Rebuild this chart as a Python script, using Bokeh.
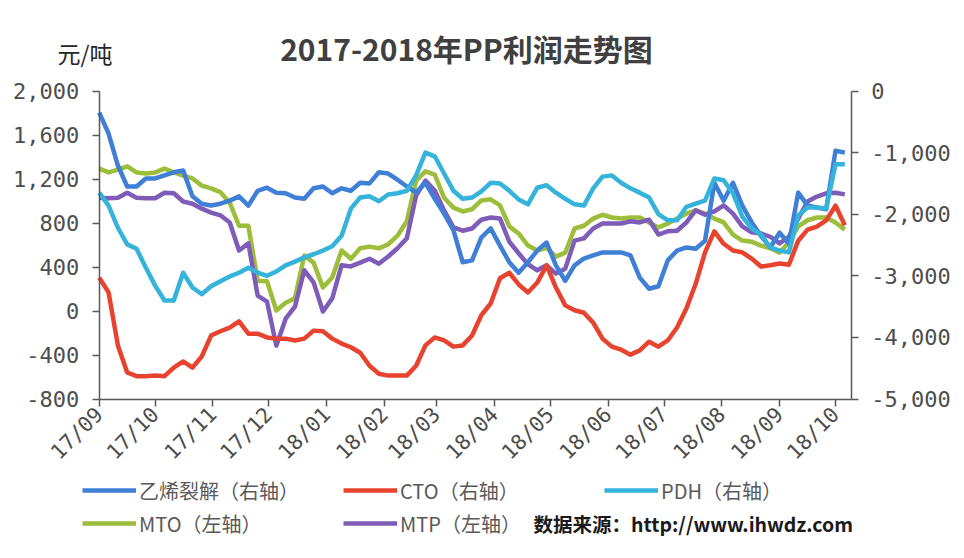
import math
import pandas as pd
from bokeh.plotting import figure
from bokeh.models import (Range1d, LinearAxis, FixedTicker, NumeralTickFormatter,
                          DatetimeTickFormatter, Legend, LegendItem, Label)
from bokeh.embed import file_html
from bokeh.resources import INLINE

# ---------------- data ----------------
dates = pd.date_range("2017-09-01", periods=81, freq="5D")
month_ticks = pd.date_range("2017-09-01", "2018-10-01", freq="MS")

ethylene = [-350, -690, -1210, -1550, -1550, -1420, -1420, -1370, -1320, -1290,
            -1710, -1830, -1860, -1830, -1780, -1710, -1860, -1620, -1570, -1650,
            -1660, -1730, -1750, -1580, -1550, -1660, -1580, -1620, -1490, -1500,
            -1320, -1340, -1440, -1550, -1650, -1490, -1750, -1990, -2260, -2780,
            -2750, -2380, -2230, -2510, -2780, -2950, -2780, -2590, -2460, -2830,
            -3080, -2830, -2720, -2670, -2620, -2620, -2620, -2670, -3030, -3210,
            -3170, -2750, -2590, -2540, -2560, -2430, -1490, -1780, -1490, -1860,
            -2130, -2350, -2540, -2300, -2480, -1650, -1860, -1890, -1920, -970,
            -1000]
cto = [-3030, -3270, -4130, -4570, -4630, -4630, -4620, -4630, -4490, -4390,
       -4490, -4310, -3970, -3900, -3840, -3740, -3940, -3940, -4000, -4020,
       -4020, -4050, -4020, -3890, -3900, -4020, -4100, -4160, -4250, -4460,
       -4590, -4620, -4620, -4620, -4460, -4130, -4000, -4050, -4150, -4130,
       -3970, -3640, -3450, -3040, -2950, -3140, -3270, -3110, -2830, -3190,
       -3480, -3560, -3600, -3760, -4020, -4150, -4200, -4280, -4210, -4070,
       -4150, -4050, -3840, -3530, -3130, -2620, -2280, -2480, -2590, -2620,
       -2720, -2850, -2830, -2800, -2820, -2430, -2250, -2200, -2100, -1860,
       -2180]
pdh = [-1650, -1860, -2220, -2490, -2560, -2870, -3160, -3400, -3400, -2950,
       -3190, -3300, -3170, -3090, -3010, -2950, -2870, -2950, -3000, -2930,
       -2830, -2770, -2700, -2650, -2590, -2520, -2350, -1910, -1730, -1710,
       -1790, -1680, -1660, -1620, -1370, -1000, -1060, -1340, -1620, -1750,
       -1730, -1630, -1490, -1500, -1620, -1760, -1840, -1570, -1530, -1650,
       -1750, -1840, -1860, -1580, -1390, -1370, -1490, -1580, -1650, -1730,
       -2000, -2100, -2100, -1880, -1830, -1780, -1420, -1450, -1660, -2040,
       -2230, -2330, -2540, -2590, -2620, -2020, -1890, -1890, -1910, -1190,
       -1190]
mto = [1295, 1260, 1285, 1315, 1260, 1250, 1260, 1295, 1260, 1230,
       1205, 1140, 1115, 1080, 985, 775, 775, 275, 270, 5,
       75, 115, 505, 440, 215, 305, 550, 475, 570, 585,
       570, 605, 685, 815, 1185, 1270, 1240, 1030, 940, 905,
       925, 1005, 1015, 960, 770, 705, 595, 550, 575, 495,
       530, 750, 775, 840, 875, 850, 840, 850, 850, 805,
       760, 795, 840, 885, 915, 885, 840, 805, 695, 640,
       630, 595, 570, 530, 625, 770, 825, 850, 850, 805,
       740]
mtp = [1030, 1025, 1030, 1075, 1030, 1025, 1025, 1075, 1070, 995,
       975, 930, 895, 870, 805, 550, 615, 140, 85, -315,
       -70, 40, 370, 260, -5, 115, 415, 405, 440, 475,
       430, 495, 570, 660, 1050, 1185, 1095, 915, 760, 730,
       750, 830, 850, 840, 630, 525, 425, 370, 415, 340,
       385, 640, 660, 750, 795, 795, 795, 815, 805, 830,
       695, 725, 730, 805, 915, 875, 905, 960, 885, 770,
       715, 705, 675, 615, 675, 840, 995, 1040, 1070, 1075,
       1060]

left_ticks = [-800, -400, 0, 400, 800, 1200, 1600, 2000]
right_ticks = [-5000, -4000, -3000, -2000, -1000, 0]

title_text = "2017-2018年PP利润走势图"
unit_text = "元/吨"
source_text = "数据来源：http://www.ihwdz.com"
names = ["乙烯裂解（右轴）", "CTO（右轴）", "PDH（右轴）", "MTO（左轴）", "MTP（左轴）"]
colors = ["#3F7FD6", "#E8432E", "#36B3DB", "#9CBE3A", "#7E5CB8"]

# ---------------- geometry (pixels in the canvas) ----------------
FONT = "Noto Sans CJK SC"
TICK_FONT = "DejaVu Sans Mono"
AXIS_COLOR = "#595959"
W, H = 964, 558
AX_LEFT, AX_RIGHT = 98.75, 850.7     # left / right axis x
AX_TOP, AX_BOTTOM = 90.5, 398.5      # 2000 (0) / -800 (-5000) y
LAST_TICK_X = 835.0                  # x of the 18/10 tick
T0 = pd.Timestamp("2017-09-01")
T1 = pd.Timestamp("2018-10-01")
ppd = (LAST_TICK_X - AX_LEFT) / (T1 - T0).days          # pixels per day
x_start = T0 - pd.Timedelta(days=AX_LEFT / ppd)
x_end = T0 + pd.Timedelta(days=(W - AX_LEFT) / ppd)
x_axis_end = T0 + pd.Timedelta(days=(AX_RIGHT - AX_LEFT) / ppd)

L_MIN, L_MAX = -800, 2000
R_MIN, R_MAX = -5000, 0
lpp = (L_MAX - L_MIN) / (AX_BOTTOM - AX_TOP)
rpp = (R_MAX - R_MIN) / (AX_BOTTOM - AX_TOP)
y_range = Range1d(L_MIN - (H - AX_BOTTOM) * lpp, L_MAX + AX_TOP * lpp)
r_range = Range1d(R_MIN - (H - AX_BOTTOM) * rpp, R_MAX + AX_TOP * rpp)


def ms(t):
    return t.timestamp() * 1000


p = figure(width=W, height=H, x_axis_type="datetime",
           x_range=Range1d(x_start, x_end), y_range=y_range,
           output_backend="svg", toolbar_location=None, min_border=0)
p.extra_y_ranges = {"right": r_range}
p.outline_line_color = None
p.grid.visible = False

lw = 4.5
r_mto = p.line(dates, mto, line_color=colors[3], line_width=lw, line_join="round")
r_mtp = p.line(dates, mtp, line_color=colors[4], line_width=lw, line_join="round")
r_eth = p.line(dates, ethylene, line_color=colors[0], line_width=lw, line_join="round", y_range_name="right")
r_cto = p.line(dates, cto, line_color=colors[1], line_width=lw, line_join="round", y_range_name="right")
r_pdh = p.line(dates, pdh, line_color=colors[2], line_width=lw, line_join="round", y_range_name="right")


def style_axis(ax, size="22px"):
    ax.axis_line_color = AXIS_COLOR
    ax.axis_line_width = 1.5
    ax.major_tick_line_color = AXIS_COLOR
    ax.major_tick_line_width = 1.5
    ax.major_tick_in = 0
    ax.major_tick_out = 7
    ax.minor_tick_line_color = None
    ax.major_label_text_font = TICK_FONT
    ax.major_label_text_font_size = size
    ax.major_label_text_color = "#4d4d4d"


fmt = "%y/%m"
xa = p.xaxis[0]
style_axis(xa, "21px")
xa.fixed_location = L_MIN
xa.bounds = (ms(T0), ms(x_axis_end))
xa.ticker = FixedTicker(ticks=[ms(t) for t in month_ticks])
xa.formatter = DatetimeTickFormatter(years=fmt, months=fmt, days=fmt, hours=fmt,
                                     minutes=fmt, seconds=fmt, milliseconds=fmt,
                                     microseconds=fmt, minsec=fmt, hourmin=fmt)
xa.major_label_orientation = math.pi / 4
xa.major_label_standoff = 5

ya = p.yaxis[0]
style_axis(ya)
ya.fixed_location = ms(T0)
ya.bounds = (L_MIN, L_MAX)
ya.ticker = FixedTicker(ticks=left_ticks)
ya.formatter = NumeralTickFormatter(format="0,0")
ya.major_label_standoff = 13

ra = LinearAxis(y_range_name="right", fixed_location=ms(x_axis_end), bounds=(R_MIN, R_MAX))
style_axis(ra)
ra.ticker = FixedTicker(ticks=right_ticks)
ra.formatter = NumeralTickFormatter(format="0,0")
ra.major_label_standoff = 13
p.add_layout(ra, "right")

# ---------------- texts (screen px from canvas bottom-left) ----------------
p.add_layout(Label(x=466, y=H - 47, x_units="screen", y_units="screen", text=title_text,
                   text_align="center", text_baseline="middle", text_font=FONT,
                   text_font_size="30px", text_font_style="bold", text_color="#404040"))
p.add_layout(Label(x=57, y=H - 52, x_units="screen", y_units="screen", text=unit_text,
                   text_align="left", text_baseline="middle", text_font=FONT,
                   text_font_size="23px", text_color="#262626"))
p.add_layout(Label(x=533, y=H - 523, x_units="screen", y_units="screen", text=source_text,
                   text_align="left", text_baseline="middle", text_font=FONT,
                   text_font_size="19.5px", text_font_style="bold", text_color="#1a1a1a"))

legend = Legend(items=[LegendItem(label=names[0], renderers=[r_eth]),
                       LegendItem(label=names[1], renderers=[r_cto]),
                       LegendItem(label=names[2], renderers=[r_pdh]),
                       LegendItem(label=names[3], renderers=[r_mto]),
                       LegendItem(label=names[4], renderers=[r_mtp])],
                location=(82, 20), orientation="horizontal", ncols=3,
                glyph_width=54, glyph_height=30, label_height=30, label_width=201,
                label_standoff=3, spacing=3, padding=0, margin=0,
                border_line_alpha=0, background_fill_alpha=0,
                label_text_font=FONT, label_text_font_size="20px",
                label_text_color="#595959", label_text_baseline="middle")
p.add_layout(legend, "center")

open("out.html", "w").write(file_html(p, INLINE))
